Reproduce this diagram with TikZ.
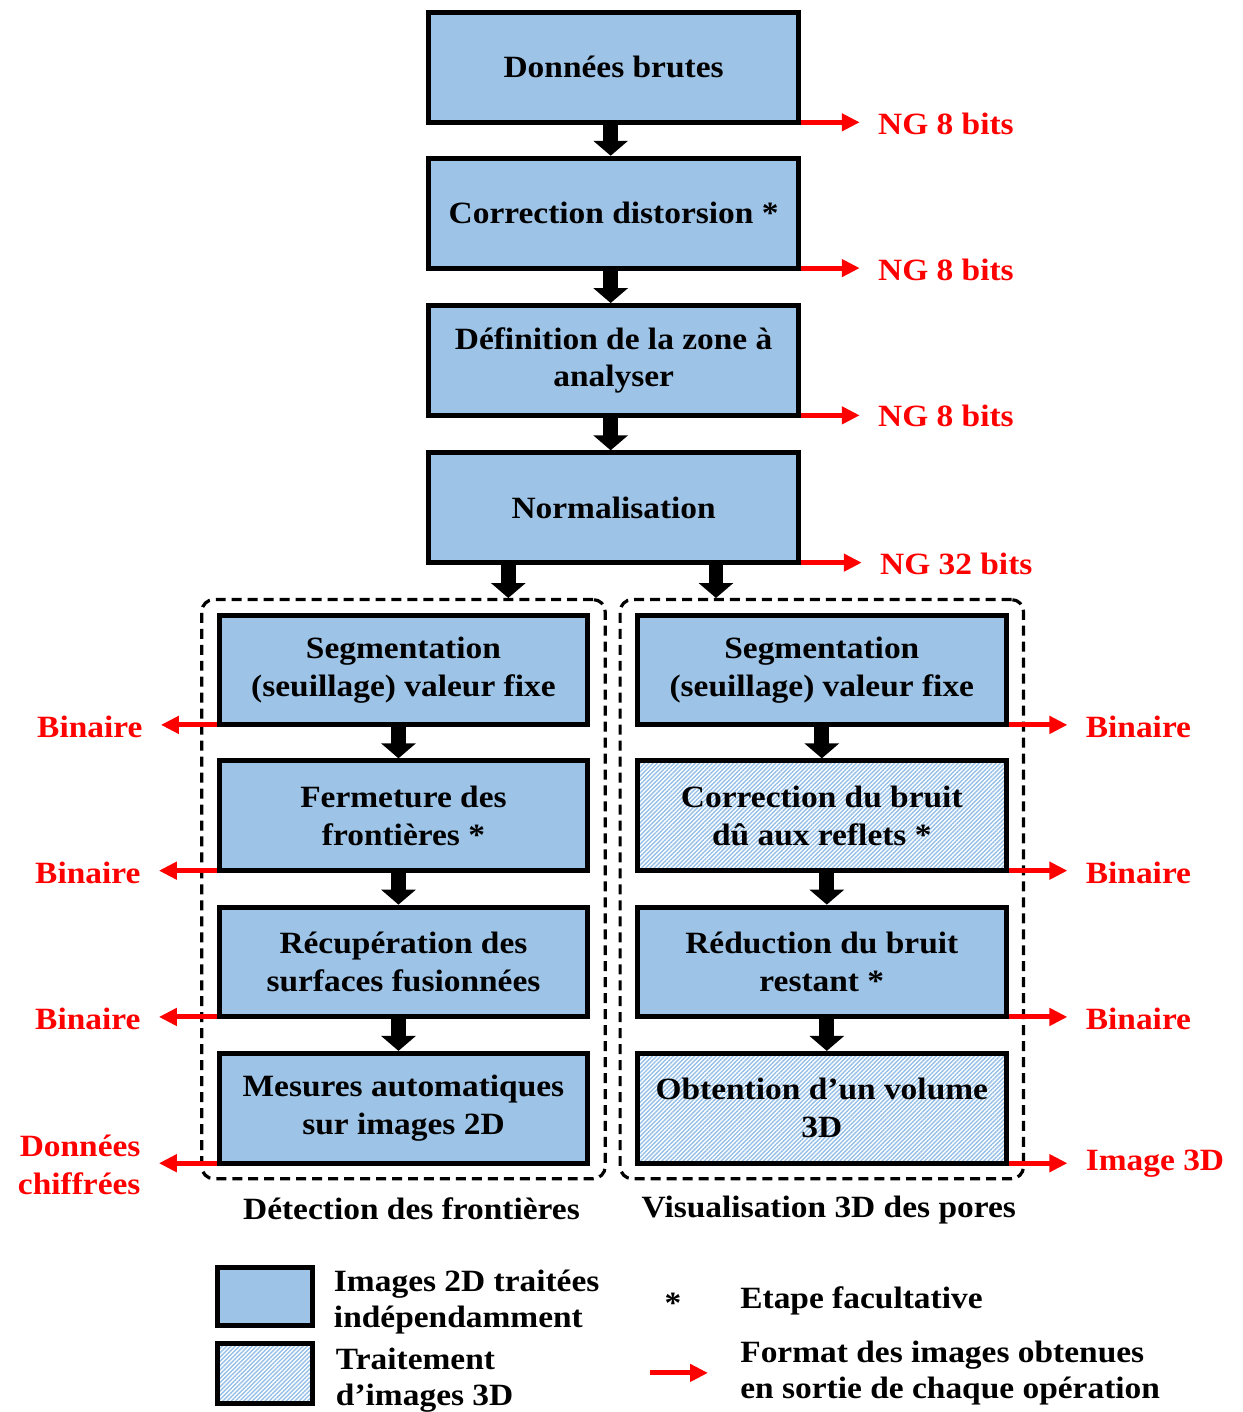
\documentclass[tikz,border=0pt]{standalone}
\usepackage{fontspec}
\setmainfont[FakeStretch=1.08]{Liberation Serif}
\usetikzlibrary{arrows.meta,positioning,fit,patterns.meta}
\definecolor{boxblue}{RGB}{157,195,230}
\definecolor{hatchblue}{RGB}{150,192,232}
\definecolor{outred}{RGB}{255,0,0}

\begin{document}
\begin{tikzpicture}[x=0.5pt, y=-0.5pt, font=\fontsize{15.5}{19}\selectfont\bfseries,
  bx/.style={draw=black, line width=2.5pt, fill=boxblue, minimum width=185pt, minimum height=55pt, align=center, inner sep=2pt},
  hb/.style={draw=black, line width=2.5pt, minimum width=185pt, minimum height=55pt, align=center, inner sep=2pt,
    preaction={fill=white}, preaction={pattern={Lines[angle=45, distance=1.5pt, line width=0.7pt]}, pattern color=hatchblue}},
  grp/.style={draw=black, line width=1.6pt, dash pattern=on 5pt off 3pt, rounded corners=6pt, inner sep=0pt},
  blk/.style={line width=7.5pt, -{Triangle[width=17pt, length=7.5pt]}},
  rarr/.style={draw=outred, line width=2.5pt, -{Triangle[width=8.5pt, length=9pt]}},
  lbl/.style={text=outred, inner xsep=9pt, inner ysep=0pt, align=right},
  txt/.style={align=left, inner sep=0pt, font=\fontsize{15.5}{18}\selectfont\bfseries}]

% chaine principale
\node[bx] (n1) at (613.5,67.5) {Données brutes};
\node[bx] (n2) at (613.5,213.5) {Correction distorsion *};
\node[bx] (n3) at (613.5,361) {Définition de la zone à\\analyser};
\node[bx] (n4) at (613.5,508.5) {Normalisation};
\draw[blk] ([xshift=-1.5pt]n1.south) -- ([xshift=-1.5pt]n2.north);
\draw[blk] ([xshift=-1.5pt]n2.south) -- ([xshift=-1.5pt]n3.north);
\draw[blk] ([xshift=-1.5pt]n3.south) -- ([xshift=-1.5pt]n4.north);

% branche gauche : detection des frontieres
\node[bx, minimum width=184.5pt] (l1) at (403,671) {Segmentation\\(seuillage) valeur fixe};
\node[bx, minimum width=184.5pt] (l2) at (403,817) {Fermeture des\\frontières *};
\node[bx, minimum width=184.5pt] (l3) at (403,963.5) {Récupération des\\surfaces fusionnées};
\node[bx, minimum width=184.5pt] (l4) at (403,1110) {Mesures automatiques\\sur images 2D};
\draw[blk] ([xshift=-2.5pt]l1.south) -- ([xshift=-2.5pt]l2.north);
\draw[blk] ([xshift=-2.5pt]l2.south) -- ([xshift=-2.5pt]l3.north);
\draw[blk] ([xshift=-2.5pt]l3.south) -- ([xshift=-2.5pt]l4.north);
\node[grp, fit=(l1)(l4), inner xsep=7.5pt, inner ysep=6.5pt] (gl) {};
\node (tl) at (411,1211) {Détection des frontières};

% branche droite : visualisation 3D
\node[bx, minimum width=184.5pt] (r1) at (822,671) {Segmentation\\(seuillage) valeur fixe};
\node[hb, minimum width=184.5pt] (r2) at (822,817) {Correction du bruit\\dû aux reflets *};
\node[bx, minimum width=184.5pt] (r3) at (822,963.5) {Réduction du bruit\\restant *};
\node[hb, minimum width=184.5pt] (r4) at (822,1110) {Obtention d’un volume\\3D};
\draw[blk] (r1) -- (r2);
\draw[blk] ([xshift=2.5pt]r2.south) -- ([xshift=2.5pt]r3.north);
\draw[blk] ([xshift=2.5pt]r3.south) -- ([xshift=2.5pt]r4.north);
\node[grp, fit=(r1)(r4), inner xsep=7.5pt, inner ysep=6.5pt] (gr) {};
\node (tr) at (829,1212) {Visualisation 3D des pores};

\draw[blk] ([xshift=-52.75pt]n4.south) -- ([xshift=-52.75pt]n4.south |- gl.north);
\draw[blk] ([xshift=51.25pt]n4.south) -- ([xshift=51.25pt]n4.south |- gr.north);

% formats en sortie
\node[lbl, anchor=west] (f1) at (860,124) {NG 8 bits};
\node[lbl, anchor=west] (f2) at (860,270) {NG 8 bits};
\node[lbl, anchor=west] (f3) at (860,417) {NG 8 bits};
\node[lbl, anchor=west] (f4) at (862,565) {NG 32 bits};
\draw[rarr] ([yshift=1.25pt]n1.south east) -- ([yshift=1.25pt]n1.south east -| f1.west);
\draw[rarr] ([yshift=1.25pt]n2.south east) -- ([yshift=1.25pt]n2.south east -| f2.west);
\draw[rarr] ([yshift=1.25pt]n3.south east) -- ([yshift=1.25pt]n3.south east -| f3.west);
\draw[rarr] ([yshift=1.25pt]n4.south east) -- ([yshift=1.25pt]n4.south east -| f4.west);

\node[lbl, anchor=east] (b1) at (160,728) {Binaire};
\node[lbl, anchor=east] (b2) at (158,874) {Binaire};
\node[lbl, anchor=east] (b3) at (158,1020) {Binaire};
\node[lbl, anchor=east] (b4) at (158,1167) {Données\\chiffrées};
\draw[rarr] ([yshift=1.25pt]l1.south west) -- ([yshift=1.25pt]l1.south west -| b1.east);
\draw[rarr] ([yshift=1.25pt]l2.south west) -- ([yshift=1.25pt]l2.south west -| b2.east);
\draw[rarr] ([yshift=1.25pt]l3.south west) -- ([yshift=1.25pt]l3.south west -| b3.east);
\draw[rarr] ([yshift=1.25pt]l4.south west) -- ([yshift=1.25pt]l4.south west -| b4.east);

\node[lbl, anchor=west] (c1) at (1068,728) {Binaire};
\node[lbl, anchor=west] (c2) at (1068,874) {Binaire};
\node[lbl, anchor=west] (c3) at (1068,1020) {Binaire};
\node[lbl, anchor=west] (c4) at (1068,1165) {Image 3D};
\draw[rarr] ([yshift=1.25pt]r1.south east) -- ([yshift=1.25pt]r1.south east -| c1.west);
\draw[rarr] ([yshift=1.25pt]r2.south east) -- ([yshift=1.25pt]r2.south east -| c2.west);
\draw[rarr] ([yshift=1.25pt]r3.south east) -- ([yshift=1.25pt]r3.south east -| c3.west);
\draw[rarr] ([yshift=1.25pt]r4.south east) -- ([yshift=1.25pt]r4.south east -| c4.west);

% legende
\node[bx, minimum width=47.5pt, minimum height=29pt] (k1) at (264,1298.5) {};
\node[hb, minimum width=47.5pt, minimum height=30pt] (k2) at (264,1375.5) {};
\node[txt, anchor=west] (k1t) at (333,1304) {Images 2D traitées\\indépendamment};
\node[txt, anchor=west] (k2t) at (335,1382) {Traitement\\d’images 3D};
\node (ks) at (673,1305) {*};
\node[txt, anchor=west] (kst) at (740,1303) {Etape facultative};
\coordinate (ka) at (650,1375);
\coordinate (kb) at (708,1375);
\draw[rarr] (ka) -- (kb);
\node[txt, anchor=west] (kat) at (740,1375) {Format des images obtenues\\en sortie de chaque opération};

\useasboundingbox (0,0) rectangle (1232,1412);
\end{tikzpicture}
\end{document}
